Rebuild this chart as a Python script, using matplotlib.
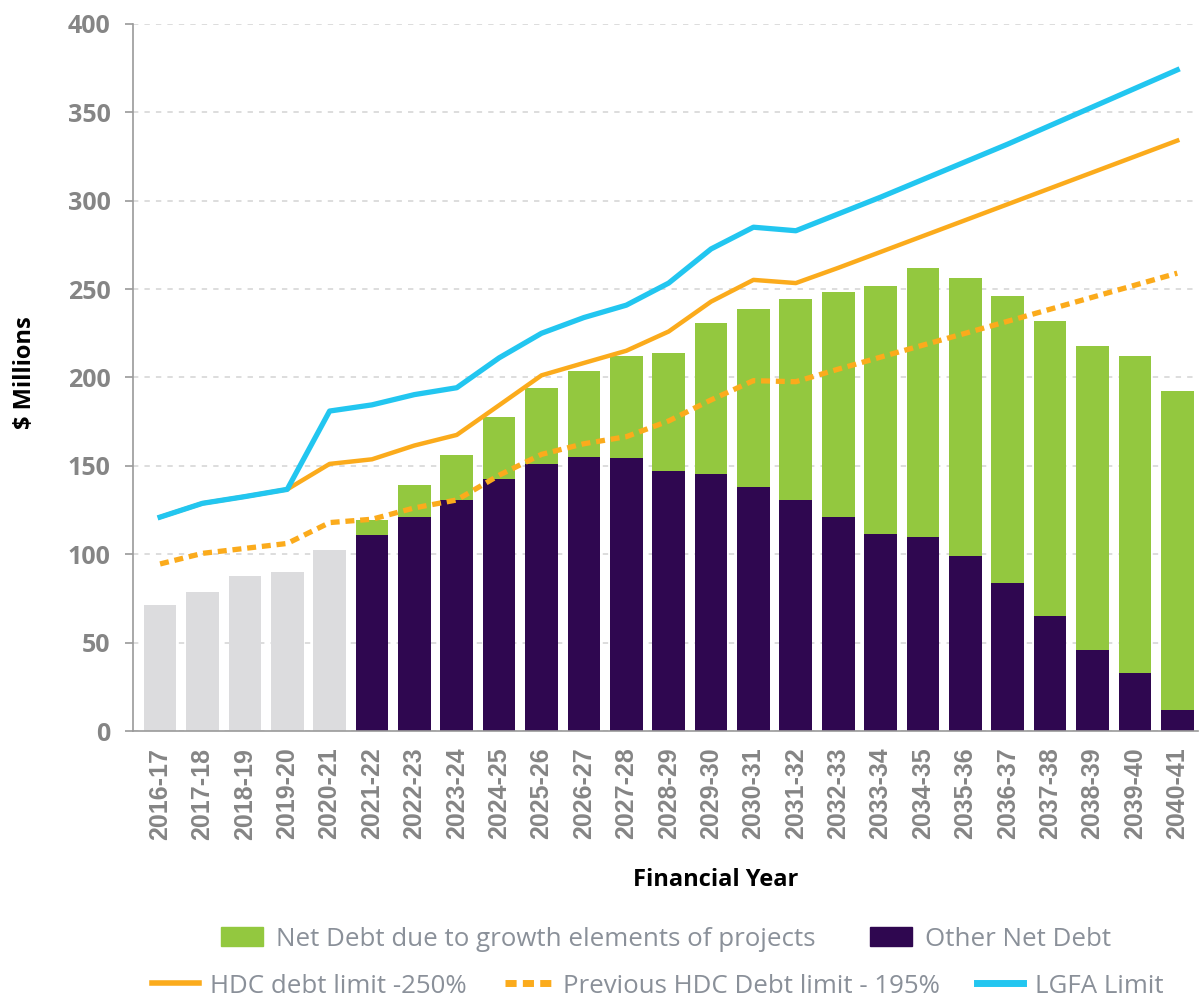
import numpy as np
import matplotlib
matplotlib.use("Agg")
import matplotlib.pyplot as plt
from matplotlib.patches import Patch
from matplotlib.lines import Line2D

# ── data ($ millions) ──
years = ["2016-17", "2017-18", "2018-19", "2019-20", "2020-21",
         "2021-22", "2022-23", "2023-24", "2024-25", "2025-26",
         "2026-27", "2027-28", "2028-29", "2029-30", "2030-31",
         "2031-32", "2032-33", "2033-34", "2034-35", "2035-36",
         "2036-37", "2037-38", "2038-39", "2039-40", "2040-41"]

hist_years = years[:5]
hist_debt = [71.0, 78.5, 87.5, 90.0, 102.6]

fcst_years = years[5:]
other_debt = [110.7, 120.8, 130.8, 142.7, 151.0, 155.0, 154.2, 147.2, 145.4, 138.1,
              130.8, 121.1, 111.5, 110.0, 99.1, 83.7, 65.1, 45.8, 32.7, 11.7]
growth_debt = [8.8, 18.3, 25.6, 34.9, 43.1, 48.6, 57.7, 66.7, 85.2, 100.6,
               113.7, 127.3, 140.4, 151.8, 156.9, 162.4, 167.1, 172.0, 179.3, 180.4]

lgfa_limit = [121.0, 128.8, 132.6, 136.7, 181.0, 184.5, 190.3, 194.2, 211.1, 225.0,
              233.9, 240.9, 253.4, 272.7, 285.0, 283.0, 292.5, 302.0, 312.0, 322.0,
              332.0, 342.5, 353.0, 363.5, 374.0]
hdc_250 = [121.0, 128.8, 132.6, 136.7, 151.1, 153.7, 161.5, 167.5, 184.3, 201.2,
           208.2, 215.1, 226.0, 242.9, 255.2, 253.4, 262.0, 271.0, 280.0, 289.0,
           298.0, 307.0, 316.0, 325.0, 334.0]
hdc_195 = [94.5, 100.5, 103.3, 106.1, 117.9, 119.8, 126.2, 130.7, 144.7, 156.5,
           162.5, 166.5, 175.4, 187.3, 198.2, 197.6, 204.7, 211.5, 218.3, 225.0,
           231.8, 238.6, 245.4, 252.2, 259.0]

GREEN = "#93c83f"
PURPLE = "#2f0750"
GREY_BAR = "#dcdcde"
ORANGE = "#fbab1c"
BLUE = "#22c6f0"
TICK_GREY = "#858585"
LEG_GREY = "#8a9099"

plt.rcParams["font.family"] = ["Open Sans", "DejaVu Sans"]

fig = plt.figure(figsize=(12, 9.97), dpi=100)
ax = fig.add_axes([0.1108, 0.2668, 0.8872, 0.7092])

w = 0.77
ax.bar(hist_years, hist_debt, width=w, color=GREY_BAR, zorder=2)
ax.bar(fcst_years, other_debt, width=w, color=PURPLE, zorder=2)
ax.bar(fcst_years, growth_debt, width=w, bottom=other_debt, color=GREEN, zorder=2)

ax.plot(years, hdc_195, color=ORANGE, lw=3.8, ls=(0, (1.7, 1.1)), zorder=3)
ax.plot(years, hdc_250, color=ORANGE, lw=3.2, zorder=4, solid_joinstyle="round")
ax.plot(years, lgfa_limit, color=BLUE, lw=3.8, zorder=5, solid_joinstyle="round")

ax.set_ylim(0, 400)
ax.set_xlim(-0.64, 24.48)
ax.set_yticks(np.arange(0, 401, 50))
ax.yaxis.grid(True, color="#d3d3d3", lw=1.1, ls=(0, (3.5, 4)), zorder=0)
ax.set_axisbelow(True)

for s in ["top", "right"]:
    ax.spines[s].set_visible(False)
for s in ["left", "bottom"]:
    ax.spines[s].set_color("#9a9a9a")
    ax.spines[s].set_linewidth(1.2)

ax.tick_params(axis="y", length=6, width=1.2, color="#9a9a9a", pad=10,
               labelsize=18, labelcolor=TICK_GREY)
for lab in ax.get_yticklabels():
    lab.set_fontweight("bold")
ax.tick_params(axis="x", length=0, pad=12)
ax.set_xticks(range(len(years)))
ax.set_xticklabels(years, rotation=90, fontsize=18, color=TICK_GREY,
                   fontweight="bold", family=["Liberation Sans", "DejaVu Sans"])

fig.text(716 / 1200, 1 - 880 / 997, "Financial Year", ha="center", va="center",
         fontsize=17, fontweight="bold", color="black")
fig.text(25 / 1200, 1 - 373 / 997, "$ Millions", ha="center", va="center",
         rotation=90, fontsize=17, fontweight="bold", color="black")

row1 = [Patch(color=GREEN), Patch(color=PURPLE)]
fig.legend(row1, ["Net Debt due to growth elements of projects", "Other Net Debt"],
           loc="center", bbox_to_anchor=(666 / 1200, 1 - 939 / 997), ncol=2,
           frameon=False, fontsize=18.6, labelcolor=LEG_GREY,
           handlelength=1.65, handleheight=0.72, handletextpad=0.5,
           columnspacing=2.1)
row2 = [Line2D([], [], color=ORANGE, lw=4),
        Line2D([], [], color=ORANGE, lw=5, ls=(0, (1.6, 0.9))),
        Line2D([], [], color=BLUE, lw=5)]
fig.legend(row2, ["HDC debt limit -250%", "Previous HDC Debt limit - 195%", "LGFA Limit"],
           loc="center", bbox_to_anchor=(658 / 1200, 1 - 986 / 997), ncol=3,
           frameon=False, fontsize=18.6, labelcolor=LEG_GREY,
           handlelength=1.8, handletextpad=0.45, columnspacing=1.45)

fig.savefig("out.png", dpi=100)
